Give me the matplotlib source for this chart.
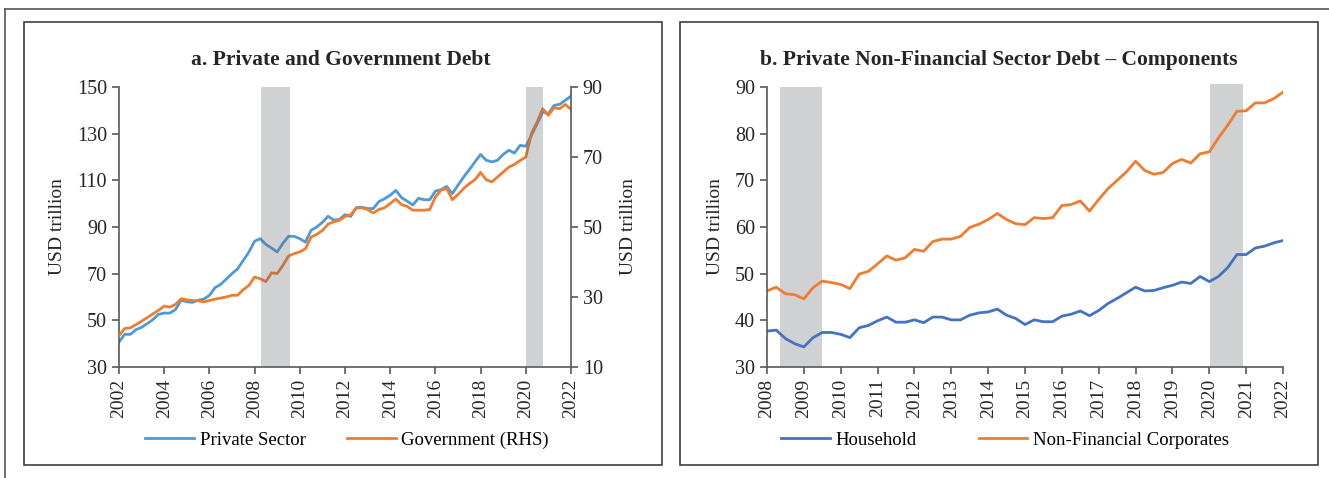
import numpy as np
import matplotlib
matplotlib.use("Agg")
import matplotlib.pyplot as plt
from matplotlib.patches import Rectangle
from matplotlib.lines import Line2D

plt.rcParams['font.family'] = ['Liberation Serif', 'DejaVu Serif']

# quarterly data, panel a: 2002Q1 .. 2022Q1
private_sector = [
    40.7, 44.0, 44.0, 46.0,
    47.0, 48.6, 50.3, 52.6,
    53.1, 53.1, 54.6, 58.6,
    58.0, 57.7, 58.6, 59.1,
    60.7, 64.0, 65.4, 67.7,
    70.0, 72.1, 75.7, 79.3,
    83.9, 85.0, 82.5, 81.0,
    79.3, 83.0, 86.0, 86.0,
    85.0, 83.5, 88.6, 90.0,
    92.0, 94.6, 93.0, 93.2,
    95.3, 94.5, 98.3, 98.5,
    97.9, 97.9, 100.9, 102.1,
    103.6, 105.7, 102.6, 101.1,
    99.4, 102.3, 101.7, 101.7,
    105.4, 106.0, 107.4, 104.3,
    107.9, 111.4, 114.6, 117.9,
    121.1, 118.6, 117.9, 118.6,
    121.1, 122.9, 121.7, 125.0,
    124.6, 129.3, 134.3, 139.3,
    138.6, 142.1, 142.6, 144.3,
    146.1,
]
government = [
    19.0, 21.0, 21.2, 22.1,
    23.1, 24.1, 25.2, 26.2,
    27.4, 27.1, 27.9, 29.5,
    29.2, 29.0, 28.9, 28.6,
    29.0, 29.4, 29.7, 30.0,
    30.5, 30.5, 32.1, 33.3,
    35.7, 35.2, 34.4, 36.9,
    36.7, 39.0, 41.7, 42.4,
    42.9, 43.8, 47.1, 47.9,
    49.0, 50.8, 51.5, 51.9,
    53.0, 53.5, 55.4, 55.5,
    55.0, 54.0, 55.0, 55.5,
    56.7, 58.0, 56.4, 55.9,
    54.8, 54.8, 54.8, 55.0,
    58.6, 60.5, 61.0, 57.8,
    59.3, 61.0, 62.4, 63.5,
    65.6, 63.5, 62.9, 64.3,
    65.7, 67.1, 67.9, 69.0,
    70.0, 76.7, 80.0, 83.8,
    81.9, 84.1, 83.8, 85.0,
    83.6,
]

# panel b: 2008Q1 .. 2022Q1
household = [
    37.7, 37.9, 36.1, 35.0,
    34.3, 36.3, 37.4, 37.4,
    37.0, 36.3, 38.4, 38.9,
    39.9, 40.7, 39.6, 39.6,
    40.1, 39.5, 40.7, 40.7,
    40.1, 40.1, 41.1, 41.6,
    41.8, 42.4, 41.1, 40.4,
    39.1, 40.1, 39.7, 39.7,
    40.9, 41.3, 42.0, 41.0,
    42.1, 43.6, 44.7, 45.9,
    47.1, 46.3, 46.4, 47.0,
    47.5, 48.2, 47.9, 49.4,
    48.3, 49.4, 51.3, 54.1,
    54.1, 55.5, 55.9, 56.6,
    57.1,
]
nfc = [
    46.3, 47.1, 45.7, 45.5,
    44.6, 47.0, 48.4, 48.1,
    47.7, 46.8, 49.9, 50.5,
    52.1, 53.8, 52.9, 53.4,
    55.2, 54.8, 56.9, 57.4,
    57.4, 58.0, 59.9, 60.6,
    61.6, 62.9, 61.6, 60.7,
    60.5, 62.0, 61.8, 62.0,
    64.6, 64.8, 65.6, 63.4,
    65.9, 68.2, 70.0, 71.8,
    74.1, 72.1, 71.3, 71.7,
    73.6, 74.5, 73.7, 75.7,
    76.1, 79.1, 81.8, 84.8,
    84.9, 86.6, 86.6, 87.5,
    88.9,
]

# shaded periods (fractional years)
shade_a = [(2008.28, 2009.57), (2020.0, 2020.76)]
shade_b = [(2008.35, 2009.49), (2020.02, 2020.91)]

t_a = 2002 + np.arange(len(private_sector)) / 4
t_b = 2008 + np.arange(len(household)) / 4

C_LBLUE = '#4e9ad6'
C_BLUE = '#4472c4'
C_ORANGE = '#ee7d2f'
C_SPINE = '#595959'
C_TEXT = '#262626'

fig = plt.figure(figsize=(13.29, 4.78), dpi=100)

# outer frame and panel boxes
fig.add_artist(Line2D([5/1329, 1], [1 - 9/478, 1 - 9/478], color='#555555', lw=1.2))
fig.add_artist(Line2D([5/1329, 5/1329], [0, 1 - 9/478], color='#555555', lw=1.2))
for x0 in (24, 680):
    fig.add_artist(Rectangle((x0/1329, 1 - 465/478), 638/1329, 443/478,
                             fill=False, ec='#404040', lw=1.2))


def style_axis(ax):
    for s in ('top', 'right'):
        ax.spines[s].set_visible(False)
    for s in ('left', 'bottom'):
        ax.spines[s].set_color(C_SPINE)
        ax.spines[s].set_linewidth(1.2)
    ax.tick_params(axis='both', colors=C_SPINE, labelcolor=C_TEXT,
                   labelsize=14.5, length=5, width=1.2)
    ax.tick_params(axis='x', labelrotation=90, labelsize=14)


# ---- panel a
ax1 = fig.add_axes([119/1329, 1 - 367/478, 452/1329, 280/478])
ax2 = ax1.twinx()
style_axis(ax1)
ax2.spines['top'].set_visible(False)
ax2.spines['left'].set_visible(False)
ax2.spines['bottom'].set_visible(False)
ax2.spines['right'].set_color(C_SPINE)
ax2.spines['right'].set_linewidth(1.2)
ax2.tick_params(colors=C_SPINE, labelcolor=C_TEXT, labelsize=14.5, length=5, width=1.2)

ax1.plot(t_a, private_sector, color=C_LBLUE, lw=2.0, zorder=2)
ax2.plot(t_a, government, color=C_ORANGE, lw=2.0, zorder=2)
for a, b in shade_a:
    ax2.axvspan(a, b, color=(0.40, 0.41, 0.42), alpha=0.3, lw=0, zorder=3)

ax1.set_xlim(2002, 2022)
ax1.set_xticks(np.arange(2002, 2023, 2))
ax1.set_ylim(30, 150)
ax1.set_yticks(np.arange(30, 151, 20))
ax2.set_ylim(10, 90)
ax2.set_yticks(np.arange(10, 91, 20))
ax1.set_ylabel('USD trillion', fontsize=14, color=C_TEXT, labelpad=8)
ax2.set_ylabel('USD trillion', fontsize=14, color=C_TEXT, labelpad=12)
ax1.set_title('a. Private and Government Debt', fontsize=15.5, fontweight='bold',
              color=C_TEXT, pad=16)
ax1.title.set_position((0.49, 1))

h1 = [Line2D([], [], color=C_LBLUE, lw=2.0), Line2D([], [], color=C_ORANGE, lw=2.0)]
fig.legend(h1, ['Private Sector', 'Government (RHS)'], loc='center',
           bbox_to_anchor=(347/1329, 1 - 440/478), ncol=2, frameon=False,
           fontsize=13.5, handlelength=2.6, columnspacing=2.2, handletextpad=0.3)

# ---- panel b
ax3 = fig.add_axes([767/1329, 1 - 367/478, 516/1329, 280/478])
style_axis(ax3)
for a, b in shade_b:
    ax3.axvspan(a, b, ymax=1.01 if a > 2015 else 1.0, color='#d0d1d3', lw=0,
                zorder=1, clip_on=False)
ax3.plot(t_b, household, color=C_BLUE, lw=2.0, zorder=2)
ax3.plot(t_b, nfc, color=C_ORANGE, lw=2.0, zorder=2)
ax3.set_xlim(2008, 2022)
ax3.set_xticks(np.arange(2008, 2023, 1))
ax3.set_ylim(30, 90)
ax3.set_yticks(np.arange(30, 91, 10))
ax3.set_ylabel('USD trillion', fontsize=14, color=C_TEXT, labelpad=8)
ax3.set_title('b. Private Non-Financial Sector Debt \u2013 Components', fontsize=15.5,
              fontweight='bold', color=C_TEXT, pad=16)
ax3.title.set_position((0.45, 1))

h2 = [Line2D([], [], color=C_BLUE, lw=2.0), Line2D([], [], color=C_ORANGE, lw=2.0)]
fig.legend(h2, ['Household', 'Non-Financial Corporates'], loc='center',
           bbox_to_anchor=(1005/1329, 1 - 440/478), ncol=2, frameon=False,
           fontsize=13.5, handlelength=2.6, columnspacing=3.3, handletextpad=0.3)

fig.savefig('out.png', dpi=100)
